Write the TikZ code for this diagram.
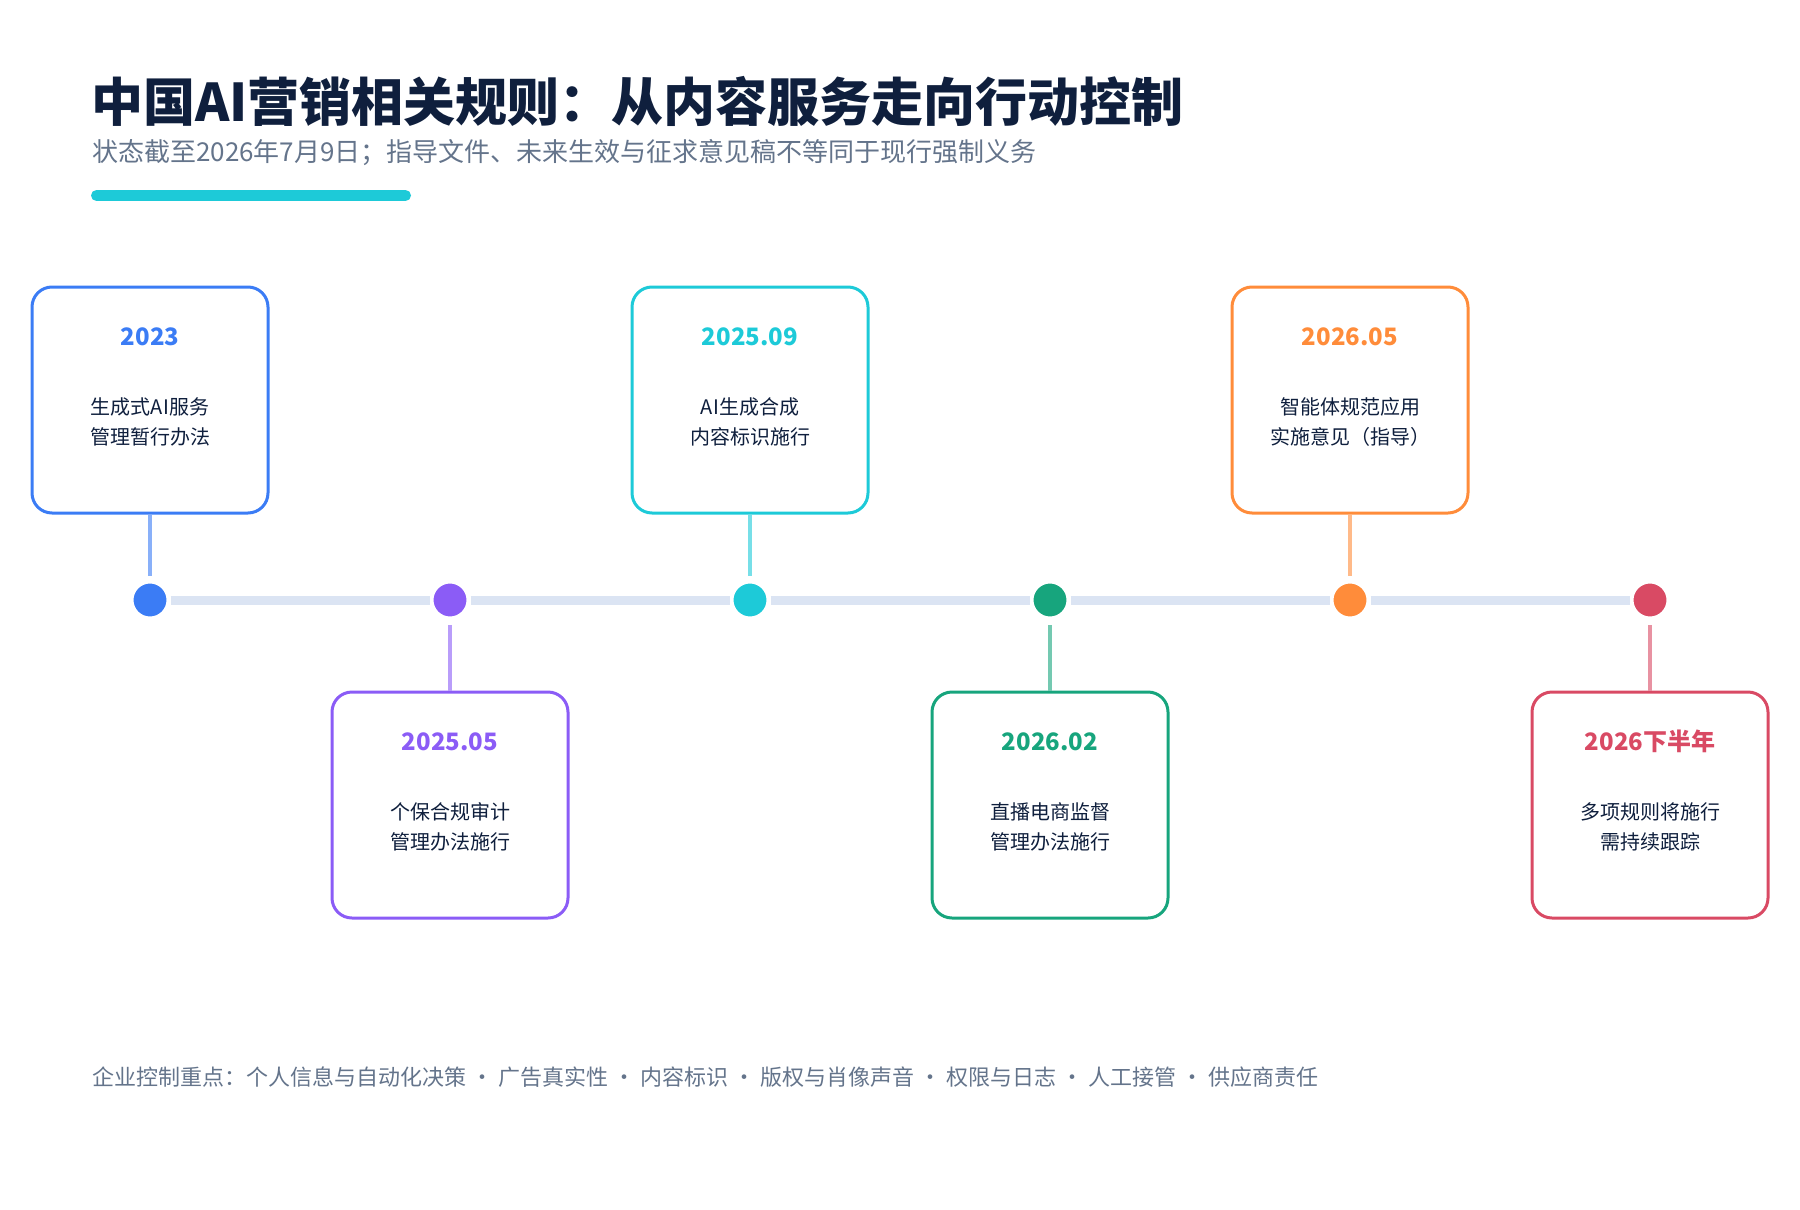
\documentclass[tikz,border=0pt]{standalone}
\usepackage{fontspec}
\setmainfont{Noto Sans CJK SC}
\usepackage{xcolor}
\usetikzlibrary{calc, positioning}
\definecolor{navy}{HTML}{0F1F3D}
\definecolor{slate}{HTML}{64748B}
\definecolor{track}{HTML}{DBE4F3}
\definecolor{cblue}{HTML}{3B7CF5}
\definecolor{cpurple}{HTML}{8B5CF6}
\definecolor{ccyan}{HTML}{1DCAD8}
\definecolor{cgreen}{HTML}{17A57D}
\definecolor{corange}{HTML}{FF8C3A}
\definecolor{cred}{HTML}{D94A64}
\newcommand{\dotsep}{\hspace{5pt}•\hspace{5pt}}
\tikzset{
  card/.style={draw=#1, line width=3pt, rounded corners=20pt, minimum width=236pt, minimum height=226pt},
  dot/.style={circle, fill=#1, draw=white, line width=4pt, minimum size=37pt, inner sep=0pt},
  stem/.style={#1!60, line width=4pt},
  yearlabel/.style={text=#1, inner sep=0pt, font=\bfseries\fontsize{24}{28}\selectfont},
  body/.style={text=navy, inner sep=0pt, align=center, font=\fontsize{20}{30}\selectfont},
}

\begin{document}
\begin{tikzpicture}[x=1pt, y=-1pt]
    \useasboundingbox (0,0) rectangle (1800,1210);
    \node[anchor=west, inner sep=0pt, text=navy, font=\bfseries\fontsize{52}{60}\selectfont] (title) at (91,101) {中国AI营销相关规则：从内容服务走向行动控制}; %标题
    \node[anchor=west, inner sep=0pt, text=slate, font=\fontsize{26}{30}\selectfont] (subtitle) at (92,153) {状态截至2026年7月9日；指导文件、未来生效与征求意见稿不等同于现行强制义务};
    \draw[ccyan, line width=11pt, line cap=round] (96.5,195.5) -- (405.5,195.5); %装饰条
    \foreach \i/\x/\c/\by/\yr/\txt in {
        1/150/cblue/400/2023/{生成式AI服务\\管理暂行办法},
        2/450/cpurple/805/2025.05/{个保合规审计\\管理办法施行},
        3/750/ccyan/400/2025.09/{AI生成合成\\内容标识施行},
        4/1050/cgreen/805/2026.02/{直播电商监督\\管理办法施行},
        5/1350/corange/400/2026.05/{智能体规范应用\\实施意见（指导）},
        6/1650/cred/805/2026下半年/{多项规则将施行\\需持续跟踪}}
    {
    \node[dot=\c] (dot\i) at (\x,600) {};
    \node[card=\c] (box\i) at (\x,\by) {};
    \node[yearlabel=\c] (year\i) at ($(box\i.north)+(0,51)$) {\yr};
    \node[body] (text\i) at ($(box\i.north)+(0,136)$) {\txt};
    \draw[stem=\c, shorten >=4pt] (box\i) -- (dot\i);
    }
    \foreach \i/\j in {1/2,2/3,3/4,4/5,5/6}
    \draw[track, line width=9pt] (dot\i) -- (dot\j); %时间轴
    \node[anchor=west, inner sep=0pt, text=slate, font=\fontsize{22}{26}\selectfont] (footer) at (92,1077) {企业控制重点：个人信息与自动化决策\dotsep 广告真实性\dotsep 内容标识\dotsep 版权与肖像声音\dotsep 权限与日志\dotsep 人工接管\dotsep 供应商责任};
\end{tikzpicture}
\end{document}
